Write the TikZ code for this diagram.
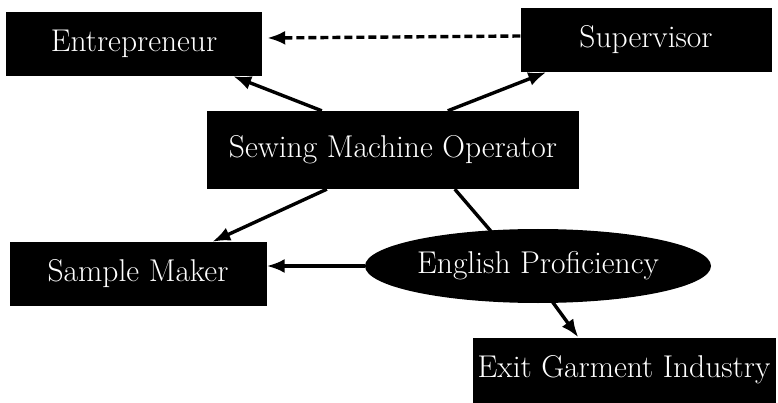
\documentclass[tikz,border=0pt]{standalone}
\usetikzlibrary{arrows.meta,shapes.geometric}
\begin{document}
\begin{tikzpicture}[x=1pt,y=-1pt,
  blk/.style={fill=black,text=white,inner sep=0pt,font=\fontsize{31.5}{36}\selectfont},
  boxn/.style={blk,rectangle},
  ovaln/.style={blk,ellipse},
  arr/.style={line width=3.4pt,-{Latex[length=18pt,width=14pt]}},
  darr/.style={line width=3.4pt,dash pattern=on 8pt off 4pt,-{Latex[length=18pt,width=14pt]}}]
\useasboundingbox (0,0) rectangle (778,403);
\node[boxn,minimum width=256pt,minimum height=64pt] (ent) at (134,44) {Entrepreneur};
\node[boxn,minimum width=251pt,minimum height=64pt] (sup) at (646,40) {Supervisor};
\node[boxn,minimum width=372pt,minimum height=78pt] (sew) at (393,150) {Sewing Machine Operator};
\node[boxn,minimum width=257pt,minimum height=64pt] (smp) at (138,274) {Sample Maker};
\node[ovaln,minimum width=346pt,minimum height=74pt] (eng) at (538,266) {English Proficiency};
\node[boxn,minimum width=303pt,minimum height=65pt] (exit) at (624,370) {Exit Garment Industry};
\draw[darr] ([yshift=4pt]sup.west) -- ([xshift=5pt,yshift=6pt]ent.east);
\draw[arr] ([xshift=115pt]sew.north west) -- ([xshift=-29pt]ent.south east);
\draw[arr] ([xshift=241pt]sew.north west) -- ([xshift=26pt]sup.south west);
\draw[arr] ([xshift=120pt]sew.south west) -- ([xshift=203pt]smp.north west);
\draw[line width=3.4pt] ([xshift=248pt]sew.south west) -- ([xshift=-44pt,yshift=-6pt]eng.north);
\draw[arr] (eng.west) -- (eng.west -| smp.east);
\draw[arr] ([xshift=14pt,yshift=2pt]eng.south) -- ([xshift=106pt]exit.north west);
\end{tikzpicture}
\end{document}
